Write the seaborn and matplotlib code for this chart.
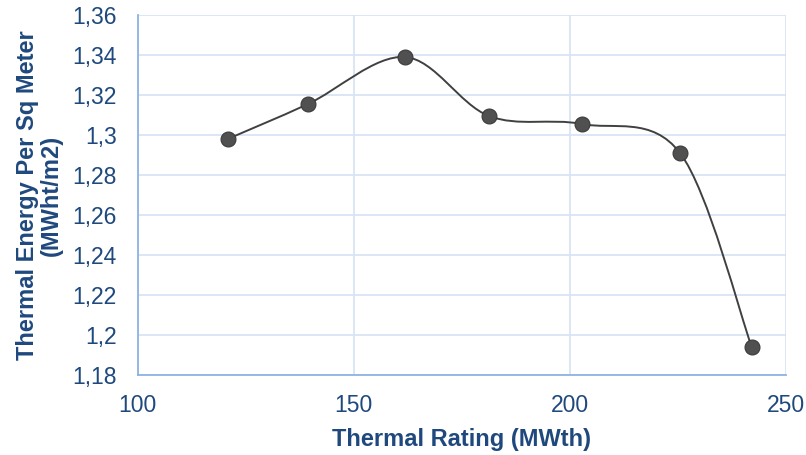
import numpy as np
import seaborn as sns
import matplotlib
matplotlib.use("Agg")
import matplotlib.pyplot as plt
from matplotlib.path import Path
from matplotlib.patches import PathPatch
from matplotlib.ticker import FuncFormatter

# data
thermal_rating = [120.8, 139.4, 161.8, 181.3, 202.8, 225.5, 242.1]
energy_per_m2 = [1.298, 1.3155, 1.339, 1.3095, 1.3055, 1.291, 1.194]

sns.set_style("white")
plt.rcParams["font.family"] = ["Liberation Sans", "DejaVu Sans"]

text_col = "#1F497D"
grid_col = "#D6E3F4"
axis_col = "#8DB3E2"

fig = plt.figure(figsize=(8.06, 4.55), dpi=100)
ax = fig.add_axes([0.171, 0.176, 0.804, 0.791])

# Excel-like smoothed line: cubic Bezier segments from Catmull-Rom tangents
x = np.array(thermal_rating)
y = np.array(energy_per_m2)
verts = [(x[0], y[0])]
codes = [Path.MOVETO]
n = len(x)
for i in range(n - 1):
    x0, y0 = (x[i - 1], y[i - 1]) if i > 0 else (x[i], y[i])
    x3, y3 = (x[i + 2], y[i + 2]) if i + 2 < n else (x[i + 1], y[i + 1])
    c1 = (x[i] + (x[i + 1] - x0) / 6, y[i] + (y[i + 1] - y0) / 6)
    c2 = (x[i + 1] - (x3 - x[i]) / 6, y[i + 1] - (y3 - y[i]) / 6)
    verts += [c1, c2, (x[i + 1], y[i + 1])]
    codes += [Path.CURVE4] * 3
ax.add_patch(PathPatch(Path(verts, codes), facecolor="none",
                       edgecolor="#404040", lw=1.4, zorder=2))

sns.scatterplot(x=thermal_rating, y=energy_per_m2, ax=ax, s=115,
                color="#505050", edgecolor="#3A3A3A", linewidth=0.8,
                zorder=3, legend=False)

ax.set_xlim(100, 250)
ax.set_ylim(1.18, 1.36)
ax.set_xticks([100, 150, 200, 250])
ax.set_yticks(np.arange(1.18, 1.3601, 0.02))
ax.yaxis.set_major_formatter(FuncFormatter(lambda v, p: f"{round(v, 2):g}".replace(".", ",")))

ax.grid(True, color=grid_col, lw=1.2)
ax.set_axisbelow(True)
for s in ["top", "right"]:
    ax.spines[s].set_visible(False)
for s in ["left", "bottom"]:
    ax.spines[s].set_color(axis_col)
    ax.spines[s].set_linewidth(1.3)
ax.tick_params(axis="both", length=0, labelsize=16.5, colors=text_col)
ax.tick_params(axis="y", pad=15)
ax.tick_params(axis="x", pad=14)

ax.set_xlabel("Thermal Rating (MWth)", fontsize=17, fontweight="bold",
              color=text_col, labelpad=8)
ax.set_ylabel("Thermal Energy Per Sq Meter\n(MWht/m2)", fontsize=17,
              fontweight="bold", color=text_col, labelpad=7, linespacing=1.05)

fig.savefig("out.png", dpi=100)
